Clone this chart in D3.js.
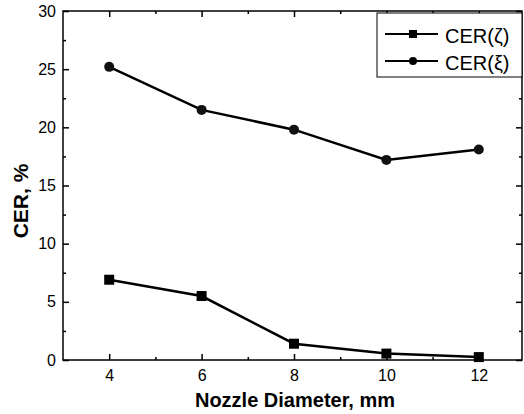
<!DOCTYPE html>
<html>
<head>
<meta charset="utf-8">
<script src="https://cdn.jsdelivr.net/npm/d3@7"></script>
<style>
  body { margin: 0; background: #fff; }
  svg { display: block; font-family: Arial, "Liberation Sans", sans-serif; }
</style>
</head>
<body>
<svg id="chart" width="524" height="414"></svg>
<script>
// nozzle diameter, mm
var diameters = [4, 6, 8, 10, 12];
var cerZeta = [6.9, 5.5, 1.4, 0.55, 0.25];
var cerXi = [25.2, 21.5, 19.8, 17.2, 18.1];
var xTicks = [4, 6, 8, 10, 12];
var yTicks = [0, 5, 10, 15, 20, 25, 30];
var seriesNames = ["CER(\u03B6)", "CER(\u03BE)"];

var svg = d3.select('#chart');
var plotLeft = 63, plotRight = 522, plotTop = 11, plotBottom = 360;

var x = d3.scaleLinear().domain([3, 13]).range([plotLeft, 525]);
var y = d3.scaleLinear().domain([0, 30]).range([plotBottom, plotTop]);

// frame
svg.append('rect')
	.attr('x', plotLeft).attr('y', plotTop)
	.attr('width', plotRight - plotLeft).attr('height', plotBottom - plotTop)
	.attr('fill', 'none').attr('stroke', '#000').attr('stroke-width', 1.5);

function inTicks(g, axis){
	g.call(axis);
	g.select('.domain').remove();
	g.selectAll('line').attr('stroke', '#000').attr('stroke-width', 1.5);
}

// bottom axis with labels
var xAxis = d3.axisBottom(x).tickValues(xTicks).tickSizeInner(-6).tickSizeOuter(0).tickPadding(10);
var gx = svg.append('g').attr('transform', 'translate(0,' + plotBottom + ')');
inTicks(gx, xAxis);
gx.selectAll('text').attr('font-size', 16).attr('font-family', 'Arial, "Liberation Sans", sans-serif').attr('fill', '#000');
inTicks(svg.append('g').attr('transform', 'translate(0,' + plotBottom + ')'),
	d3.axisBottom(x).tickValues([5, 7, 9, 11]).tickSize(-3).tickFormat(''));

// top axis ticks
inTicks(svg.append('g').attr('transform', 'translate(0,' + plotTop + ')'),
	d3.axisTop(x).tickValues(xTicks).tickSize(-6).tickFormat(''));
inTicks(svg.append('g').attr('transform', 'translate(0,' + plotTop + ')'),
	d3.axisTop(x).tickValues([5, 7, 9, 11]).tickSize(-3).tickFormat(''));

// left axis
var gy = svg.append('g').attr('transform', 'translate(' + plotLeft + ',0)');
inTicks(gy, d3.axisLeft(y).tickValues(yTicks).tickSizeInner(-6).tickSizeOuter(0).tickPadding(7));
gy.selectAll('text').attr('font-size', 16).attr('font-family', 'Arial, "Liberation Sans", sans-serif').attr('fill', '#000');
inTicks(svg.append('g').attr('transform', 'translate(' + plotLeft + ',0)'),
	d3.axisLeft(y).tickValues([2.5, 7.5, 12.5, 17.5, 22.5, 27.5]).tickSize(-3).tickFormat(''));

// right axis ticks
inTicks(svg.append('g').attr('transform', 'translate(' + plotRight + ',0)'),
	d3.axisRight(y).tickValues(yTicks).tickSize(-6).tickFormat(''));
inTicks(svg.append('g').attr('transform', 'translate(' + plotRight + ',0)'),
	d3.axisRight(y).tickValues([2.5, 7.5, 12.5, 17.5, 22.5, 27.5]).tickSize(-3).tickFormat(''));

// axis titles
svg.append('text')
	.attr('x', 295).attr('y', 407)
	.attr('text-anchor', 'middle')
	.attr('font-size', 20).attr('font-weight', 'bold')
	.text('Nozzle Diameter, mm');

svg.append('text')
	.attr('transform', 'translate(28,' + 201 + ') rotate(-90)')
	.attr('text-anchor', 'middle')
	.attr('font-size', 21).attr('font-weight', 'bold')
	.text('CER, %');

// lines
var line = d3.line()
	.x(function(d, i){ return x(diameters[i]); })
	.y(function(d){ return y(d); });

svg.append('path').datum(cerZeta)
	.attr('d', line).attr('fill', 'none').attr('stroke', '#000').attr('stroke-width', 2.5);
svg.append('path').datum(cerXi)
	.attr('d', line).attr('fill', 'none').attr('stroke', '#000').attr('stroke-width', 2.5);

svg.selectAll('rect.sq')
	.data(cerZeta).enter()
	.append('rect').attr('class', 'sq')
	.attr('x', function(d, i){ return x(diameters[i]) - 5; })
	.attr('y', function(d){ return y(d) - 5; })
	.attr('width', 10).attr('height', 10)
	.attr('fill', '#000');

svg.selectAll('circle.dot')
	.data(cerXi).enter()
	.append('circle').attr('class', 'dot')
	.attr('cx', function(d, i){ return x(diameters[i]); })
	.attr('cy', function(d){ return y(d); })
	.attr('r', 5)
	.attr('fill', '#111');

// legend
var legend = svg.append('g');
legend.append('rect')
	.attr('x', 377).attr('y', 13)
	.attr('width', plotRight - 377).attr('height', 64)
	.attr('fill', '#fff').attr('stroke', '#000').attr('stroke-width', 1);

seriesNames.forEach(function(name, i){
	var ly = 34 + i * 27;
	legend.append('line')
		.attr('x1', 385).attr('x2', 438).attr('y1', ly).attr('y2', ly)
		.attr('stroke', '#000').attr('stroke-width', 2);
	if(i == 0){
		legend.append('rect').attr('x', 409).attr('y', ly - 4).attr('width', 8).attr('height', 8).attr('fill', '#000');
	} else {
		legend.append('circle').attr('cx', 413).attr('cy', ly).attr('r', 4).attr('fill', '#000');
	}
	legend.append('text')
		.attr('x', 445).attr('y', ly + 9)
		.attr('font-size', 20)
		.text(name);
});
</script>
</body>
</html>
